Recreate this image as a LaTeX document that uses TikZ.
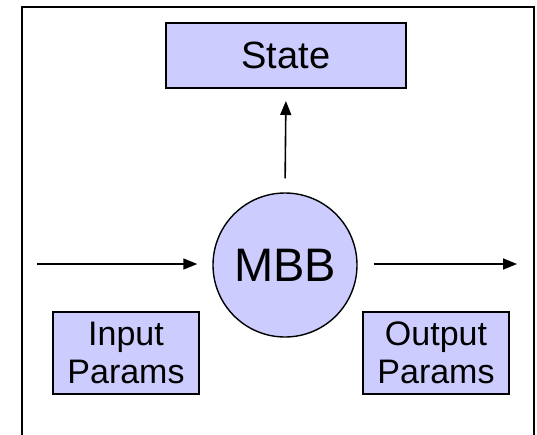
\documentclass[tikz,border=0pt]{standalone}
\usepackage{fontspec}
\setmainfont{Liberation Sans}
\usetikzlibrary{arrows.meta}
\definecolor{boxfill}{HTML}{CCCCFF}
\begin{document}
\begin{tikzpicture}[x=1pt,y=-1pt,
  box/.style={draw=black, line width=2pt, fill=boxfill, inner sep=0pt, align=center},
  conn/.style={line width=1.6pt, -{Triangle[length=14pt,width=11pt]}}]
  \useasboundingbox (0,0) rectangle (537,434);
  % open frame round the block
  \draw[line width=2pt] (22,440) -- (22,7) -- (534,7) -- (534,440);
  \node[box, minimum width=240pt, minimum height=65pt, font=\fontsize{38}{44}\selectfont] (state) at (286,55.5) {State};
  \node[box, circle, line width=1.4pt, minimum size=144pt, font=\fontsize{47}{52}\selectfont] (mbb) at (285,265) {MBB};
  \node[box, minimum width=146pt, minimum height=82pt, font=\fontsize{34}{38}\selectfont] (inp) at (126,353) {Input\\Params};
  \node[box, minimum width=146pt, minimum height=82pt, font=\fontsize{34}{38}\selectfont] (outp) at (436,353) {Output\\Params};
  \coordinate (inend) at (37,264);
  \coordinate (outend) at (517,264);
  \draw[conn, shorten >=15pt] (inend) -- (mbb.west |- inend);
  \draw[conn, shorten <=16pt] (mbb.east |- outend) -- (outend);
  \draw[conn, shorten <=14pt, shorten >=12pt] (mbb.north) -- (state.south);
\end{tikzpicture}
\end{document}
